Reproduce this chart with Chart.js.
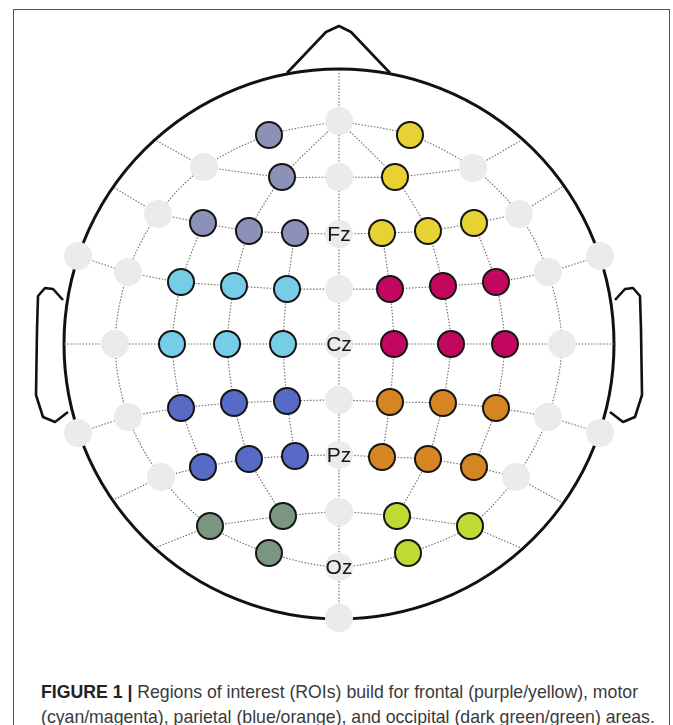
<!DOCTYPE html>
<html>
<head>
<meta charset="utf-8">
<script src="https://cdn.jsdelivr.net/npm/chart.js@4.4.1/dist/chart.umd.min.js"></script>
<style>
  html, body { margin: 0; padding: 0; background: #fff; }
  body { width: 673px; height: 725px; position: relative; overflow: hidden; }
  #frame { position: absolute; left: 13px; top: 9px; width: 657px; height: 780px; border: 1px solid #555; box-sizing: border-box; }
  #wrap { position: absolute; left: 0; top: 0; width: 673px; height: 650px; }
  #caption { position: absolute; left: 41px; top: 679px; font-family: "Liberation Sans", Arial, sans-serif; font-size: 18.5px; line-height: 25px; color: #3a3a3a; white-space: nowrap; transform: scaleX(0.955); transform-origin: 0 0; }
  #caption b { color: #222; }
</style>
</head>
<body>
<div id="frame"></div>
<div id="wrap"><canvas id="head"></canvas></div>
<div id="caption">
  <div><b>FIGURE 1 |</b> Regions of interest (ROIs) build for frontal (purple/yellow), motor</div>
  <div>(cyan/magenta), parietal (blue/orange), and occipital (dark green/green) areas.</div>
</div>
<script>
// electrode positions, [name, x, y] with Cz at 0,0
const purple = [['Fp1', -70, 209], ['AF3', -57, 167], ['F5', -136, 121], ['F3', -90, 113], ['F1', -44, 111]];
const yellow = [['Fp2', 71, 209], ['AF4', 56, 167], ['F2', 43, 111], ['F4', 89, 113], ['F6', 135, 121]];
const cyan = [['FC5', -158, 62], ['FC3', -105, 58], ['FC1', -52, 55], ['C5', -167, 0], ['C3', -112, 0], ['C1', -56, 0]];
const magenta = [['FC2', 51, 55], ['FC4', 104, 58], ['FC6', 157, 62], ['C2', 55, 0], ['C4', 112, 0], ['C6', 166, 0]];
const blue = [['CP5', -158, -64], ['CP3', -105, -59], ['CP1', -52, -57], ['P5', -136, -123], ['P3', -90, -115], ['P1', -44, -112]];
const orange = [['CP2', 51, -58], ['CP4', 104, -59], ['CP6', 157, -64], ['P2', 43, -113], ['P4', 89, -115], ['P6', 135, -123]];
const darkGreen = [['PO7', -129, -182], ['PO3', -56, -172], ['O1', -70, -209]];
const green = [['PO8', 131, -182], ['PO4', 58, -172], ['O2', 69, -209]];
const grey = [
  ['Fpz', 0, 223], ['AFz', 0, 167], ['AF7', -135, 177], ['AF8', 134, 176],
  ['F7', -181, 130], ['F8', 180, 130], ['FCz', 0, 55],
  ['FT7', -211, 72], ['FT8', 209, 72], ['FT9', -261, 88], ['FT10', 261, 88],
  ['T7', -224, 0], ['T8', 223, 0], ['CPz', 0, -56],
  ['TP7', -211, -73], ['TP8', 209, -73], ['TP9', -261, -89], ['TP10', 261, -89],
  ['P7', -178, -133], ['P8', 177, -133], ['POz', 0, -168], ['Iz', 0, -274]
];
const labelled = [['Fz', 0, 110], ['Cz', 0, 0], ['Pz', 0, -111], ['Oz', 0, -223]];
// where the dotted lines meet the head outline
const rim = [
  ['top', 0, 274], ['eAF7', -182, 203], ['eAF8', 183, 204], ['eF7', -226, 157], ['eF8', 223, 157],
  ['eT7', -275, 0], ['eT8', 275, 0], ['eP7', -226, -156], ['eP8', 222, -158], ['ePO7', -182, -203], ['ePO8', 182, -204]
];

// dotted grid, as chains of electrode names
const ring = ['Fpz', 'Fp1', 'AF7', 'F7', 'FT7', 'T7', 'TP7', 'P7', 'PO7', 'O1', 'Oz', 'O2', 'PO8', 'P8', 'TP8', 'T8', 'FT8', 'F8', 'AF8', 'Fp2', 'Fpz'];
const rows = [
  ['AF7', 'AF3', 'AFz', 'AF4', 'AF8'],
  ['F7', 'F5', 'F3', 'F1', 'Fz', 'F2', 'F4', 'F6', 'F8'],
  ['FT9', 'FT7', 'FC5', 'FC3', 'FC1', 'FCz', 'FC2', 'FC4', 'FC6', 'FT8', 'FT10'],
  ['eT7', 'T7', 'C5', 'C3', 'C1', 'Cz', 'C2', 'C4', 'C6', 'T8', 'eT8'],
  ['TP9', 'TP7', 'CP5', 'CP3', 'CP1', 'CPz', 'CP2', 'CP4', 'CP6', 'TP8', 'TP10'],
  ['P7', 'P5', 'P3', 'P1', 'Pz', 'P2', 'P4', 'P6', 'P8'],
  ['PO7', 'PO3', 'POz', 'PO4', 'PO8']
];
const columns = [
  ['top', 'Fpz', 'AFz', 'Fz', 'FCz', 'Cz', 'CPz', 'Pz', 'POz', 'Oz', 'Iz'],
  ['Fpz', 'AF3', 'F3', 'FC3', 'C3', 'CP3', 'P3', 'PO3'],
  ['Fpz', 'AF4', 'F4', 'FC4', 'C4', 'CP4', 'P4', 'PO4'],
  ['F1', 'FC1', 'C1', 'CP1', 'P1'], ['F2', 'FC2', 'C2', 'CP2', 'P2'],
  ['F5', 'FC5', 'C5', 'CP5', 'P5'], ['F6', 'FC6', 'C6', 'CP6', 'P6']
];
const spokes = [['AF7', 'eAF7'], ['AF8', 'eAF8'], ['F7', 'eF7'], ['F8', 'eF8'], ['P7', 'eP7'], ['P8', 'eP8'], ['PO7', 'ePO7'], ['PO8', 'ePO8']];

// head outline
const headRadius = 275;
const nose = [[-52, 271], [-13, 312], [0, 318], [12, 312], [51, 271]];
const earLeft = [[-276, 44], [-286, 55], [-294, 56], [-301, 48], [-302, 14], [-303, -51], [-296, -73], [-284, -78], [-271, -68]];
const earRight = [[276, 44], [286, 55], [294, 56], [301, 48], [302, 14], [303, -51], [296, -73], [284, -78], [271, -68]];

const lookup = {};
[purple, yellow, cyan, magenta, blue, orange, darkGreen, green, grey, labelled, rim].forEach(list => {
  list.forEach(([name, x, y]) => { lookup[name] = { x, y }; });
});

const toPoints = list => list.map(([name, x, y]) => ({ x, y }));

function gridLine(chain, curve) {
  return {
    type: 'scatter',
    data: chain.map(n => lookup[n]),
    showLine: true,
    borderColor: '#6e6e6e',
    borderWidth: 1.1,
    borderDash: [1.5, 1.6],
    tension: curve,
    pointRadius: 0,
    order: 5
  };
}

function outline(pts) {
  return {
    type: 'scatter',
    data: pts.map(([x, y]) => ({ x, y })),
    showLine: true,
    borderColor: '#111',
    borderWidth: 2.6,
    borderJoinStyle: 'round',
    tension: 0,
    pointRadius: 0,
    order: 4
  };
}

function electrodes(list, colour) {
  return {
    type: 'scatter',
    data: toPoints(list),
    backgroundColor: colour,
    borderColor: '#151515',
    borderWidth: 2,
    pointRadius: 13,
    pointHoverRadius: 13,
    order: 1
  };
}

function blanks(list) {
  return {
    type: 'scatter',
    data: toPoints(list),
    backgroundColor: '#ebebeb',
    borderWidth: 0,
    pointRadius: 14,
    pointHoverRadius: 14,
    order: 2
  };
}

const datasets = [];
datasets.push(gridLine(ring, 0.3));
rows.forEach(r => datasets.push(gridLine(r, 0.25)));
columns.forEach(c => datasets.push(gridLine(c, 0.2)));
spokes.forEach(s => datasets.push(gridLine(s, 0)));
datasets.push(outline(nose), outline(earLeft), outline(earRight));
datasets.push(blanks(grey), blanks(labelled));
datasets.push(
  electrodes(purple, '#8c91b7'),
  electrodes(yellow, '#e8d133'),
  electrodes(cyan, '#77cde8'),
  electrodes(magenta, '#c3075f'),
  electrodes(blue, '#576bc6'),
  electrodes(orange, '#d58622'),
  electrodes(darkGreen, '#7a9680'),
  electrodes(green, '#bfda33')
);

// head circle under everything, electrode names on top
const headPlugin = {
  id: 'headPlugin',
  beforeDatasetsDraw(chart) {
    const { ctx, scales: { x, y } } = chart;
    const cx = x.getPixelForValue(0), cy = y.getPixelForValue(0);
    const r = x.getPixelForValue(headRadius) - cx;
    ctx.save();
    ctx.beginPath();
    ctx.arc(cx, cy, r, 0, Math.PI * 2);
    ctx.lineWidth = 3;
    ctx.strokeStyle = '#111';
    ctx.stroke();
    ctx.restore();
  },
  afterDatasetsDraw(chart) {
    const { ctx, scales: { x, y } } = chart;
    ctx.save();
    ctx.font = '21px "Liberation Sans", Arial, sans-serif';
    ctx.fillStyle = '#151515';
    ctx.textAlign = 'center';
    ctx.textBaseline = 'middle';
    labelled.forEach(([name, vx, vy]) => {
      ctx.fillText(name, x.getPixelForValue(vx), y.getPixelForValue(vy) + 1);
    });
    ctx.restore();
  }
};

new Chart(document.getElementById('head'), {
  type: 'scatter',
  data: { datasets },
  options: {
    responsive: true,
    maintainAspectRatio: false,
    animation: false,
    devicePixelRatio: 1,
    layout: { padding: 0, autoPadding: false },
    plugins: { legend: { display: false }, tooltip: { enabled: false } },
    scales: {
      x: { type: 'linear', min: -339, max: 334, display: false },
      y: { type: 'linear', min: -306, max: 344, display: false }
    }
  },
  plugins: [headPlugin]
});
</script>
</body>
</html>
